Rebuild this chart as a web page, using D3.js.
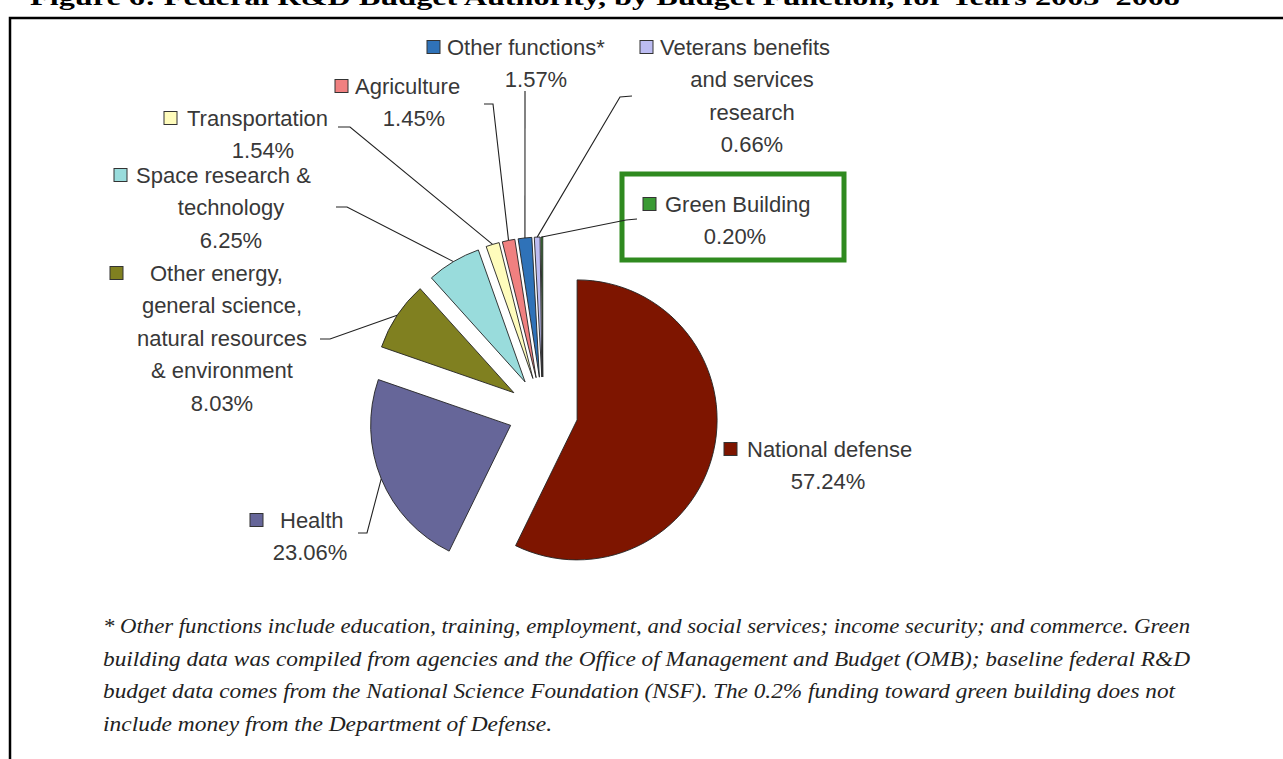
<!DOCTYPE html>
<html><head><meta charset="utf-8">
<script src="https://cdn.jsdelivr.net/npm/d3@7"></script>
<style>
html,body{margin:0;padding:0;background:#fff;overflow:hidden}
svg{display:block}
</style></head>
<body>
<svg id="chart" width="1283" height="759"></svg>
<script>
// ---------- data ----------
const categories = ["National defense","Health","Other energy, general science, natural resources & environment","Space research & technology","Transportation","Agriculture","Other functions*","Veterans benefits and services research","Green Building"];
const values = [57.24, 23.06, 8.03, 6.25, 1.54, 1.45, 1.57, 0.66, 0.20];
const sliceColors = ["#7e1500","#666699","#808020","#99dcdc","#fffcbc","#f08080","#2f72b8","#bcbcf2","#3a9a34"];
const labelLines = [
  ["National defense"],
  ["Health"],
  ["Other energy,","general science,","natural resources","& environment"],
  ["Space research &","technology"],
  ["Transportation"],
  ["Agriculture"],
  ["Other functions*"],
  ["Veterans benefits","and services","research"],
  ["Green Building"]
];
const titleText = "Figure 6: Federal R&D Budget Authority, by Budget Function, for Years 2003\u20132008";
const footnoteLines = [
  "* Other functions include education, training, employment, and social services; income security; and commerce.  Green",
  "building data was compiled from agencies and the Office of Management and Budget (OMB); baseline federal R&D",
  "budget data comes from the National Science Foundation (NSF).  The 0.2% funding toward green building does not",
  "include money from the Department of Defense."
];

// ---------- layout ----------
const svg = d3.select("#chart");
const cx = 543, cy = 412, R = 140, explode = 35;
const textColor = "#383838";
const fontFam = "'Liberation Sans', Arial, sans-serif";

// title (cut off at top, as in the source)
svg.append("text").attr("x", 30).attr("y", 5)
  .attr("font-family", "'Liberation Serif', 'Times New Roman', serif")
  .attr("font-weight", "bold").attr("font-size", 24)
  .attr("textLength", 1150).attr("lengthAdjust", "spacingAndGlyphs")
  .attr("fill", "#000").text(titleText);

// frame
svg.append("path").attr("d", "M10,759 L10,18 L1283,18")
  .attr("fill", "none").attr("stroke", "#000").attr("stroke-width", 2.5);

// pie
const pie = d3.pie().sort(null).value(d => d)(values);
const arc = d3.arc().innerRadius(0).outerRadius(R);
const g = svg.append("g").attr("transform", `translate(${cx},${cy})`);
function mid(d){ return (d.startAngle + d.endAngle) / 2; }
function apex(d){ const a = mid(d); return [explode*Math.sin(a), -explode*Math.cos(a)]; }
function rim(d){ const a = mid(d), p = apex(d); return [cx + p[0] + R*Math.sin(a), cy + p[1] - R*Math.cos(a)]; }

g.selectAll("path.slice").data(pie).join("path")
  .attr("class", "slice")
  .attr("transform", d => `translate(${apex(d)[0]},${apex(d)[1]})`)
  .attr("d", arc)
  .attr("fill", (d,i) => sliceColors[i])
  .attr("stroke", "#222").attr("stroke-width", 0.9).attr("stroke-linejoin", "round");

// label layout: key square x, first line start x, y of first line, center x for following lines, leader points
const labelPos = [
  {sq:724, tx:747, y:449, c:828, lead:null},
  {sq:250, tx:280, y:520, c:310, lead:[[367,533],[358,533]]},
  {sq:110, tx:150, y:273, c:222, lead:[[330,339],[320,339]]},
  {sq:114, tx:136, y:175, c:231, lead:[[347,207],[336,207]]},
  {sq:164, tx:187, y:118, c:263, lead:[[350,127],[338,127]]},
  {sq:335, tx:355, y:86,  c:414, lead:[[493,104],[484,104]]},
  {sq:427, tx:447, y:47,  c:536, lead:[[525,91]]},
  {sq:640, tx:660, y:47,  c:752, lead:[[620,97],[632,96]]},
  {sq:643, tx:665, y:204, c:735, lead:[[626,220],[637,219]]}
];
const lineH = 32.5;
const fmt = d3.format(".2f");

// green highlight box
svg.append("rect").attr("x", 622).attr("y", 174).attr("width", 222).attr("height", 86)
  .attr("fill", "none").attr("stroke", "#2f8a1f").attr("stroke-width", 5);

// leader lines
const line = d3.line();
pie.forEach((d,i) => {
  const L = labelPos[i];
  if (!L.lead) return;
  svg.append("path").attr("d", line([rim(d), ...L.lead]))
    .attr("fill", "none").attr("stroke", "#222").attr("stroke-width", 1.1);
});

// labels
const lab = svg.append("g").attr("font-family", fontFam).attr("font-size", 22).attr("fill", textColor);
pie.forEach((d,i) => {
  const L = labelPos[i];
  lab.append("rect").attr("x", L.sq).attr("y", L.y - 6.5).attr("width", 13).attr("height", 13)
    .attr("fill", sliceColors[i]).attr("stroke", "#333").attr("stroke-width", 1);
  const lines = labelLines[i];
  lab.append("text").attr("x", L.tx).attr("y", L.y).attr("dy", "0.35em").text(lines[0]);
  const rest = lines.slice(1).concat([fmt(values[i]) + "%"]);
  rest.forEach((t,k) => {
    lab.append("text").attr("x", L.c).attr("y", L.y + lineH*(k+1)).attr("dy", "0.35em")
      .attr("text-anchor", "middle").text(t);
  });
});

// footnote
const fnWidths = [1087, 1087, 1072, 449];
const fn = svg.append("g").attr("font-family", "'Liberation Serif', 'Times New Roman', serif")
  .attr("font-style", "italic").attr("font-size", 21).attr("fill", "#222");
footnoteLines.forEach((t,k) => {
  fn.append("text").attr("x", 103).attr("y", 633 + k*32.5)
    .attr("textLength", fnWidths[k]).attr("lengthAdjust", "spacingAndGlyphs").text(t);
});
</script>
</body></html>
